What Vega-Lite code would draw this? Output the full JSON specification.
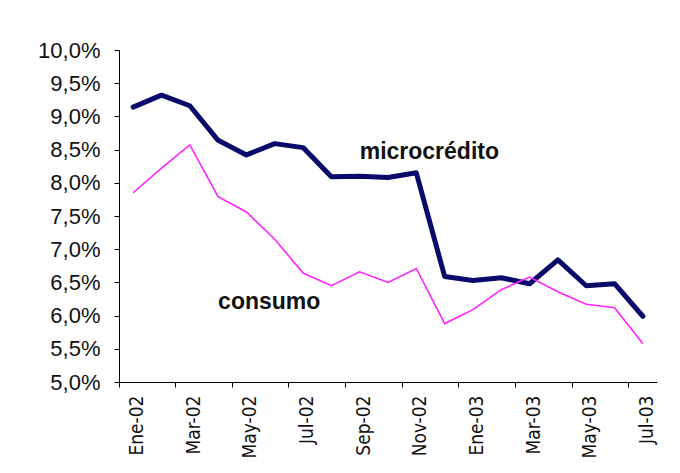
{
  "$schema": "https://vega.github.io/schema/vega-lite/v6.json",
  "width": 538,
  "height": 332,
  "autosize": "none",
  "padding": {"left": 119, "top": 50, "right": 23, "bottom": 91},
  "background": "white",
  "config": {
    "view": {"stroke": null},
    "font": "Liberation Sans",
    "axis": {
      "domainColor": "black",
      "tickColor": "black",
      "labelColor": "#111111",
      "grid": false,
      "title": null,
      "tickSize": 5,
      "domainWidth": 1,
      "tickWidth": 1
    }
  },
  "datasets": {
    "series": [
      {"mes": "Ene-02", "serie": "microcrédito", "valor": 9.14},
      {"mes": "Feb-02", "serie": "microcrédito", "valor": 9.32},
      {"mes": "Mar-02", "serie": "microcrédito", "valor": 9.16},
      {"mes": "Abr-02", "serie": "microcrédito", "valor": 8.64},
      {"mes": "May-02", "serie": "microcrédito", "valor": 8.42},
      {"mes": "Jun-02", "serie": "microcrédito", "valor": 8.59},
      {"mes": "Jul-02", "serie": "microcrédito", "valor": 8.53},
      {"mes": "Ago-02", "serie": "microcrédito", "valor": 8.09},
      {"mes": "Sep-02", "serie": "microcrédito", "valor": 8.10},
      {"mes": "Oct-02", "serie": "microcrédito", "valor": 8.08},
      {"mes": "Nov-02", "serie": "microcrédito", "valor": 8.15},
      {"mes": "Dic-02", "serie": "microcrédito", "valor": 6.59},
      {"mes": "Ene-03", "serie": "microcrédito", "valor": 6.53},
      {"mes": "Feb-03", "serie": "microcrédito", "valor": 6.57},
      {"mes": "Mar-03", "serie": "microcrédito", "valor": 6.48},
      {"mes": "Abr-03", "serie": "microcrédito", "valor": 6.84},
      {"mes": "May-03", "serie": "microcrédito", "valor": 6.45},
      {"mes": "Jun-03", "serie": "microcrédito", "valor": 6.48},
      {"mes": "Jul-03", "serie": "microcrédito", "valor": 5.99},
      {"mes": "Ene-02", "serie": "consumo", "valor": 7.85},
      {"mes": "Feb-02", "serie": "consumo", "valor": 8.22},
      {"mes": "Mar-02", "serie": "consumo", "valor": 8.57},
      {"mes": "Abr-02", "serie": "consumo", "valor": 7.79},
      {"mes": "May-02", "serie": "consumo", "valor": 7.56},
      {"mes": "Jun-02", "serie": "consumo", "valor": 7.15},
      {"mes": "Jul-02", "serie": "consumo", "valor": 6.64},
      {"mes": "Ago-02", "serie": "consumo", "valor": 6.45},
      {"mes": "Sep-02", "serie": "consumo", "valor": 6.66},
      {"mes": "Oct-02", "serie": "consumo", "valor": 6.50},
      {"mes": "Nov-02", "serie": "consumo", "valor": 6.71},
      {"mes": "Dic-02", "serie": "consumo", "valor": 5.88},
      {"mes": "Ene-03", "serie": "consumo", "valor": 6.09},
      {"mes": "Feb-03", "serie": "consumo", "valor": 6.39},
      {"mes": "Mar-03", "serie": "consumo", "valor": 6.58},
      {"mes": "Abr-03", "serie": "consumo", "valor": 6.36},
      {"mes": "May-03", "serie": "consumo", "valor": 6.17},
      {"mes": "Jun-03", "serie": "consumo", "valor": 6.12},
      {"mes": "Jul-03", "serie": "consumo", "valor": 5.58}
    ],
    "notas": [
      {"mes": "Sep-02", "valor": 8.46, "texto": "microcrédito"},
      {"mes": "Abr-02", "valor": 6.2, "texto": "consumo"}
    ]
  },
  "encoding": {
    "x": {
      "field": "mes",
      "type": "ordinal",
      "sort": ["Ene-02","Feb-02","Mar-02","Abr-02","May-02","Jun-02","Jul-02","Ago-02","Sep-02","Oct-02","Nov-02","Dic-02","Ene-03","Feb-03","Mar-03","Abr-03","May-03","Jun-03","Jul-03"],
      "scale": {"type": "band", "paddingInner": 0, "paddingOuter": 0},
      "axis": {
        "values": ["Ene-02","Mar-02","May-02","Jul-02","Sep-02","Nov-02","Ene-03","Mar-03","May-03","Jul-03"],
        "bandPosition": 0,
        "labelOffset": 4,
        "labelAngle": -90,
        "labelAlign": "right",
        "labelBaseline": "middle",
        "labelPadding": 8,
        "labelFont": "'DejaVu Sans Condensed', 'Liberation Sans', sans-serif",
        "labelFontSize": 19
      }
    },
    "y": {
      "field": "valor",
      "type": "quantitative",
      "scale": {"domain": [5, 10], "nice": false, "zero": false},
      "axis": {
        "values": [5, 5.5, 6, 6.5, 7, 7.5, 8, 8.5, 9, 9.5, 10],
        "labelExpr": "replace(format(datum.value, '.1f'), '.', ',') + '%'",
        "labelPadding": 14,
        "labelFontSize": 22
      }
    }
  },
  "layer": [
    {
      "data": {"name": "series"},
      "transform": [{"filter": "datum.serie === 'microcrédito'"}],
      "mark": {"type": "line", "color": "#0a0a6a", "strokeWidth": 5, "strokeJoin": "round", "strokeCap": "round"}
    },
    {
      "data": {"name": "series"},
      "transform": [{"filter": "datum.serie === 'consumo'"}],
      "mark": {"type": "line", "color": "#ff22ff", "strokeWidth": 1.6}
    },
    {
      "data": {"name": "notas"},
      "mark": {"type": "text", "align": "left", "baseline": "middle", "fontWeight": "bold", "fontSize": 23, "color": "#111111"},
      "encoding": {"text": {"field": "texto"}}
    }
  ]
}
